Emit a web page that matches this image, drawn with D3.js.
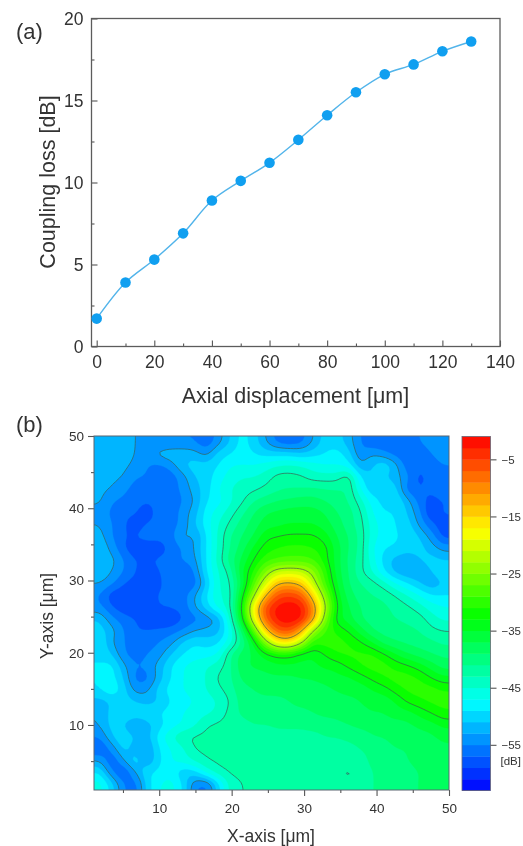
<!DOCTYPE html>
<html>
<head>
<meta charset="utf-8">
<script src="https://cdn.jsdelivr.net/npm/d3@7"></script>
<style>
  html, body { margin: 0; padding: 0; background: #fff; }
  svg { display: block; filter: blur(0.5px); }
  text { font-family: "Liberation Sans", Arial, sans-serif; fill: #333; }
</style>
</head>
<body>
<div id="chart"></div>
<script>
// panel (a)
const displacement = [0, 10, 20, 30, 40, 50, 60, 70, 80, 90, 100, 110, 120, 130];
const couplingLoss = [1.7, 3.9, 5.3, 6.9, 8.9, 10.1, 11.2, 12.6, 14.1, 15.5, 16.6, 17.2, 18, 18.6];
const lossXTicks = [0, 20, 40, 60, 80, 100, 120, 140];
const lossXMinor = [10, 30, 50, 70, 90, 110, 130];
const lossYTicks = [0, 5, 10, 15, 20];
const lossYMinor = [2.5, 7.5, 12.5, 17.5];

// panel (b), dB, rows run from y = 50 down to y = 1
const mapRows = [
  [-52,-52,-52,-53,-54,-55,-55,-55,-55,-57,-54,-51,-48,-50,-53,-56,-57,-56,-53,-50,-50,-52,-55,-57,-57,-57,-56,-55,-54,-54],
  [-52,-51.5,-52,-53,-54.5,-52,-51.5,-51.5,-52,-54,-50,-49,-48,-49,-50,-50,-50,-51,-50,-49,-48,-50,-55,-53,-54.5,-56,-57,-56.5,-55,-54],
  [-52.5,-52,-52.5,-53.5,-55,-55.5,-54,-51,-50,-50,-49,-47,-47,-47,-46,-45,-44.5,-45,-46,-47,-47,-48,-53,-51,-49,-52,-56.5,-56.5,-56,-55],
  [-52.5,-52.5,-53,-55,-55,-57.5,-56.5,-54,-51,-50,-48,-46,-45,-45,-44,-42,-42,-42.5,-44,-44,-44,-41,-49,-51,-51,-52,-54.5,-58,-56,-56],
  [-52.5,-53,-54.5,-56,-56.5,-56,-56,-54.5,-52,-50,-47,-45,-44,-43.5,-42.5,-41.5,-41,-41,-40.5,-41,-41,-41,-47,-51,-49,-50,-56.5,-57,-56.5,-55],
  [-52.5,-55,-55.5,-56,-56.5,-56,-57,-55,-53,-49,-48,-45.5,-43.5,-41,-40,-39,-38.5,-38,-38,-39,-40,-41,-44,-48,-50,-49,-52,-56,-58,-57],
  [-54,-55.5,-56.5,-56.5,-59.5,-55,-56.5,-54,-52,-48,-46,-44,-41.5,-39,-37,-36.5,-36,-36,-36,-37,-39,-40,-42.5,-47,-49,-49,-51,-54.5,-59.5,-56.5],
  [-53,-55,-56.5,-59,-56.5,-56,-56,-54.5,-51,-48,-45,-42.5,-40,-38,-36,-35.5,-35,-35,-35,-36,-38,-40,-42,-46,-48,-49,-50,-53.5,-56.5,-58.5],
  [-52,-55,-57,-57,-55,-56.5,-56,-52,-53.7,-49,-44.5,-41,-39,-37,-33.5,-33,-32.5,-32.5,-32.5,-34,-37,-39,-41.5,-46,-48,-49,-49,-51,-53.7,-58],
  [-51,-53.7,-57,-58.6,-60,-58,-56.5,-55,-53,-49,-44.5,-41,-38,-34.5,-32,-31,-30.5,-30.5,-31,-32,-36,-39,-41.5,-47,-49,-49,-50,-50,-52,-53.7],
  [-52,-52,-55,-57,-57,-56.5,-56.5,-54.5,-53.7,-49,-44,-40,-36.5,-33,-30,-29,-28.5,-28.5,-29,-32,-36,-39.5,-42,-46,-50,-52,-53,-51,-50,-51],
  [-51,-53,-55,-57,-58.6,-57,-56,-58,-55,-49,-45,-42.5,-35,-31,-25,-21,-20.5,-21,-24,-30,-36,-39,-42.6,-45,-49,-52,-53,-53,-51,-49],
  [-53,-54.5,-57,-58,-56.5,-58,-55,-57,-56.5,-51,-45,-43.5,-37,-28,-20,-13,-12,-14,-21,-29,-35,-39,-41,-42,-44,-47,-49,-51,-53,-51],
  [-55,-58.6,-58.6,-59.3,-58.6,-56.5,-57,-56,-53,-49,-45,-44.5,-34,-24,-13,-6,-5,-6.5,-15,-25,-34,-38,-40,-41,-41.5,-43,-45,-47,-49,-49],
  [-54.5,-57,-58.6,-58.6,-58,-57,-56.5,-56.5,-53,-50,-46,-44,-32.5,-17,-5.5,-2,-1,-2,-9.5,-22,-33,-37,-39,-40,-40.5,-41.5,-42.5,-44,-46,-47],
  [-51,-54.5,-56,-57,-58,-59.3,-59.3,-57,-56,-54.5,-53,-45,-34,-19,-6.5,-2,-1,-2,-10.5,-25,-34.5,-36,-39,-40,-40.5,-41,-41.5,-42,-44,-45.5],
  [-50,-52,-55,-57,-57,-56.5,-56,-55,-53,-52.5,-52,-47,-39,-28,-14,-6.5,-5.5,-11.5,-24,-29.5,-31.5,-33,-36,-39,-40,-40,-40.5,-41,-42.5,-43],
  [-49,-53,-55,-56,-56,-55,-53.7,-50.5,-49,-50,-49.5,-46,-41,-35,-25,-17,-16,-22,-31,-30,-30,-31,-32.5,-35,-38,-39,-39.5,-40,-40.5,-41.5],
  [-49,-51,-55,-56,-55,-54,-51,-49,-48,-48,-47,-41,-38,-37,-34,-32.5,-32.5,-34.5,-35,-33,-31,-30.5,-30.5,-30.5,-32.5,-35,-37,-38,-39,-39.5],
  [-49,-48,-52.5,-55,-54.5,-52,-49,-47,-46,-45,-44,-41.5,-37.5,-36.5,-36.5,-35.5,-35.5,-35.5,-35.5,-34.5,-34.5,-32.5,-31,-30,-30,-31.5,-32.5,-34,-36,-38],
  [-49,-48,-51,-56,-56,-52,-49,-47,-46,-45,-42.5,-41.5,-38.5,-38.5,-37.5,-37.5,-37.5,-37,-37,-36.5,-35.5,-35.5,-34,-32.5,-31,-30,-30,-31,-33,-34.5],
  [-49,-47,-50,-54,-53.5,-50,-48,-47,-46,-45,-43.5,-42,-39.5,-39,-38.5,-38.5,-38.5,-38,-37.5,-37.5,-37,-36.5,-36.5,-35,-34,-32,-30.5,-30,-30,-31],
  [-52,-51,-50,-51,-52,-51,-49,-48,-47,-46,-45,-43,-40,-39.5,-39.5,-39.5,-39,-38.5,-38.5,-38,-37.5,-37.5,-37,-36.5,-36.5,-35,-32.5,-31.5,-30.5,-30],
  [-53,-50,-49,-49,-49,-49,-48,-47,-46,-45.5,-44.5,-42.2,-40.5,-40,-40,-40,-39.5,-39.5,-39,-38.5,-38.5,-38,-37.5,-37,-37,-36,-36,-34.5,-33,-31.5],
  [-53,-50,-51,-54.5,-52,-50,-48,-47,-45.5,-43,-42.5,-42,-42,-41,-41,-40.5,-40.5,-40.5,-40,-40,-39.5,-39,-38.5,-38.5,-38,-38,-37.5,-36.5,-36,-34.5],
  [-55,-51,-49,-51,-52,-48,-45,-43,-42.5,-42.5,-42,-42,-42,-42.5,-42.5,-42,-42,-42,-42,-41,-41,-40.5,-40,-39,-39,-38.5,-38.5,-38,-37.5,-36.5],
  [-57.5,-54.5,-50,-52.5,-53.5,-49,-47,-45.5,-42.7,-42.5,-42.5,-42.2,-42.2,-42.5,-42.8,-42.5,-42.5,-42.3,-42.3,-42,-42,-41.8,-41,-40.5,-39.5,-39,-39,-38.5,-38,-37.5],
  [-53,-57.5,-53,-49,-53.5,-49.5,-47,-46,-44.5,-43,-42.5,-42.5,-42.5,-42.5,-42.8,-42.8,-42.6,-42.6,-42.5,-42.3,-42.3,-42.2,-41.8,-40.5,-40,-39.5,-39,-38.5,-38,-37.5],
  [-49,-55,-58,-53,-49,-48.5,-47.5,-51,-50,-46,-43.6,-42.6,-42.5,-42.5,-42.7,-42.7,-42.7,-42.7,-42.6,-42.5,-42.5,-43.6,-42.4,-41,-40.5,-40,-39.5,-39,-38.5,-37.5],
  [-46,-50,-55,-56.5,-50,-47,-46,-49,-55,-56,-50,-44,-43,-42.5,-42.5,-42.5,-42.5,-42.5,-42.5,-42.5,-42.5,-42.5,-42.3,-41,-40.5,-40,-39.5,-39,-38,-37]
];
const mapTicksX = [10, 20, 30, 40, 50];
const mapTicksXMinor = [5, 15, 25, 35, 45];
const mapTicksY = [10, 20, 30, 40, 50];
const mapTicksYMinor = [5, 15, 25, 35, 45];
const contourLevels = [-53, -43, -33, -23, -13];

// colour bar
const barTicks = [-5, -15, -25, -35, -45, -55];
const barEdges = d3.range(-63, 0, 2);
const rampStops = [-63, -47.5, -32.5, -17.5, -1];
const rampColors = ['#0000ff', '#00ffff', '#00ff00', '#ffff00', '#ff0000'];

const ramp = d3.scaleLinear().domain(rampStops).range(rampColors);
const bandColor = v => ramp(Math.floor((v + 63) / 2) * 2 - 62);

const svg = d3.select('#chart').append('svg')
  .attr('width', 523)
  .attr('height', 846);

// ---- panel (a)
const xLoss = d3.scaleLinear().domain([-1.8, 140]).range([91.5, 500]);
const yLoss = d3.scaleLinear().domain([0, 20]).range([346.5, 18.5]);

const axisStyle = (g, size) => {
  g.select('.domain').remove();
  g.selectAll('line').attr('stroke', '#555').attr('stroke-width', 1.1);
  g.selectAll('text').attr('font-size', size).attr('fill', '#333');
};

svg.append('g').attr('transform', 'translate(0,346.5)')
  .call(d3.axisBottom(xLoss).tickValues(lossXTicks).tickSize(0).tickPadding(9))
  .call(axisStyle, 17.5);
svg.append('g').attr('transform', 'translate(0,346.5)')
  .call(d3.axisTop(xLoss).tickValues(lossXMinor).tickFormat('').tickSize(3))
  .call(axisStyle, 17.5);
svg.append('g').attr('transform', 'translate(0,346.5)')
  .call(d3.axisTop(xLoss).tickValues(lossXTicks).tickFormat('').tickSize(6))
  .call(axisStyle, 17.5);
svg.append('g').attr('transform', 'translate(91.5,0)')
  .call(d3.axisLeft(yLoss).tickValues(lossYTicks).tickSize(0).tickPadding(8))
  .call(axisStyle, 17.5);
svg.append('g').attr('transform', 'translate(91.5,0)')
  .call(d3.axisRight(yLoss).tickValues(lossYTicks).tickFormat('').tickSize(6))
  .call(axisStyle, 17.5);
svg.append('g').attr('transform', 'translate(91.5,0)')
  .call(d3.axisRight(yLoss).tickValues(lossYMinor).tickFormat('').tickSize(3))
  .call(axisStyle, 17.5);

svg.append('rect')
  .attr('x', 91.5).attr('y', 18.5).attr('width', 408.5).attr('height', 328)
  .attr('fill', 'none').attr('stroke', '#5c5c5c').attr('stroke-width', 1.3);

const lossLine = d3.line()
  .x((d, i) => xLoss(displacement[i]))
  .y(d => yLoss(d))
  .curve(d3.curveCatmullRom.alpha(0.5));

svg.append('path')
  .attr('d', lossLine(couplingLoss))
  .attr('fill', 'none')
  .attr('stroke', '#52b4ea')
  .attr('stroke-width', 1.4);

svg.append('g').selectAll('circle')
  .data(couplingLoss)
  .join('circle')
  .attr('cx', (d, i) => xLoss(displacement[i]))
  .attr('cy', d => yLoss(d))
  .attr('r', 5.3)
  .attr('fill', '#109ff0');

svg.append('text').attr('x', 16).attr('y', 39).attr('font-size', 22).text('(a)');
svg.append('text').attr('x', 295.5).attr('y', 403).attr('font-size', 21.5)
  .attr('text-anchor', 'middle').text('Axial displacement [μm]');
svg.append('text').attr('transform', 'translate(54.5,182) rotate(-90)').attr('font-size', 21.5)
  .attr('text-anchor', 'middle').text('Coupling loss [dB]');

// ---- panel (b)
const xMap = d3.scaleLinear().domain([1, 50]).range([94, 449]);
const yMap = d3.scaleLinear().domain([1, 50]).range([790, 436]);

const nRows = mapRows.length;
const nCols = mapRows[0].length;

// resample the read grid finer and soften it so the bands come out rounded,
// one extra fine cell on each side keeps the contour corners outside the clip
const fine = 4;
const w = nCols * fine + 2;
const h = nRows * fine + 2;
const field = new Float64Array(w * h);
for (let j = 0; j < h; j++) {
  const v = Math.max(0, Math.min(nRows - 1, (j - 1 + 0.5) / fine - 0.5));
  const r0 = Math.floor(v), r1 = Math.min(nRows - 1, r0 + 1);
  for (let i = 0; i < w; i++) {
    const u = Math.max(0, Math.min(nCols - 1, (i - 1 + 0.5) / fine - 0.5));
    const c0 = Math.floor(u), c1 = Math.min(nCols - 1, c0 + 1);
    const top = d3.interpolateNumber(mapRows[r0][c0], mapRows[r0][c1])(u - c0);
    const bot = d3.interpolateNumber(mapRows[r1][c0], mapRows[r1][c1])(u - c0);
    field[j * w + i] = d3.interpolateNumber(top, bot)(v - r0);
  }
}
d3.blur2({data: field, width: w, height: h}, 0.7);

// grid index space -> data space
const colToX = d3.scaleLinear().domain([1, w - 1]).range([1, 50]);
const rowToY = d3.scaleLinear().domain([1, h - 1]).range([50, 1]);
const gridPath = d3.geoPath(d3.geoTransform({
  point(x, y) { this.stream.point(xMap(colToX(x)), yMap(rowToY(y))); }
}));

const contours = d3.contours().size([w, h]);

svg.append('defs').append('clipPath').attr('id', 'mapClip')
  .append('rect').attr('x', 94).attr('y', 436).attr('width', 355).attr('height', 354);

const mapG = svg.append('g').attr('clip-path', 'url(#mapClip)');
mapG.append('g').selectAll('path')
  .data(contours.thresholds(barEdges)(field))
  .join('path')
  .attr('d', gridPath)
  .attr('fill', d => bandColor(d.value))
  .attr('stroke', d => bandColor(d.value))
  .attr('stroke-width', 0.3);
mapG.append('g').selectAll('path')
  .data(contours.thresholds(contourLevels)(field))
  .join('path')
  .attr('d', gridPath)
  .attr('fill', 'none')
  .attr('stroke', '#3c5a50')
  .attr('stroke-opacity', 0.75)
  .attr('stroke-width', 0.9);

svg.append('g').attr('transform', 'translate(0,790)')
  .call(d3.axisBottom(xMap).tickValues(mapTicksX).tickSize(6).tickPadding(7))
  .call(axisStyle, 13.5);
svg.append('g').attr('transform', 'translate(0,790)')
  .call(d3.axisBottom(xMap).tickValues(mapTicksXMinor).tickFormat('').tickSize(3))
  .call(axisStyle, 13.5);
svg.append('g').attr('transform', 'translate(94,0)')
  .call(d3.axisLeft(yMap).tickValues(mapTicksY).tickSize(6).tickPadding(4))
  .call(axisStyle, 13.5);
svg.append('g').attr('transform', 'translate(94,0)')
  .call(d3.axisLeft(yMap).tickValues(mapTicksYMinor).tickFormat('').tickSize(3))
  .call(axisStyle, 13.5);

svg.append('rect')
  .attr('x', 94).attr('y', 436).attr('width', 355).attr('height', 354)
  .attr('fill', 'none').attr('stroke', '#5a6570').attr('stroke-width', 1);

svg.append('text').attr('x', 16).attr('y', 432).attr('font-size', 22).text('(b)');
svg.append('text').attr('x', 271).attr('y', 842).attr('font-size', 17.5)
  .attr('text-anchor', 'middle').text('X-axis [μm]');
svg.append('text').attr('transform', 'translate(53,616) rotate(-90)').attr('font-size', 17.5)
  .attr('text-anchor', 'middle').text('Y-axis [μm]');

// ---- colour bar
const yBar = d3.scaleLinear().domain([-63, -1]).range([790.5, 436.5]);

svg.append('g').selectAll('rect')
  .data(barEdges.slice(0, -1))
  .join('rect')
  .attr('x', 462)
  .attr('width', 28.5)
  .attr('y', d => yBar(d + 2))
  .attr('height', d => yBar(d) - yBar(d + 2) + 0.4)
  .attr('fill', d => bandColor(d));

svg.append('rect')
  .attr('x', 462).attr('y', 436.5).attr('width', 28.5).attr('height', 354)
  .attr('fill', 'none').attr('stroke', '#667').attr('stroke-width', 0.8);

svg.append('g').attr('transform', 'translate(490.5,0)')
  .call(d3.axisRight(yBar).tickValues(barTicks).tickFormat(d => '−' + Math.abs(d)).tickSize(6).tickPadding(5))
  .call(axisStyle, 11.5);

svg.append('text').attr('x', 500.5).attr('y', 765).attr('font-size', 11.5).text('[dB]');
</script>
</body>
</html>
